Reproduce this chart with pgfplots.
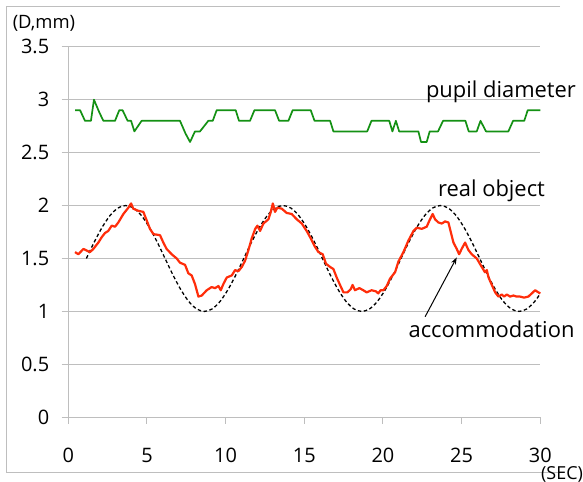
\documentclass[border=0pt]{standalone}
\usepackage{fontspec}
\setmainfont{Open Sans}
\usepackage{pgfplots}
\pgfplotsset{compat=1.18}
\usetikzlibrary{arrows.meta}

\definecolor{gridgray}{RGB}{190,190,190}
\definecolor{pupilgreen}{RGB}{20,145,20}
\definecolor{accred}{RGB}{255,45,10}

\begin{document}
\begin{tikzpicture}
  \useasboundingbox (-68.3bp,-64.7bp) rectangle (514.7bp,417.3bp);
  % chart frame (no right edge in the original)
  \draw[gridgray, line width=1bp] (491.7bp,410.3bp) -- (-61.3bp,410.3bp) -- (-61.3bp,-54.7bp) -- (491.7bp,-54.7bp);
  \begin{axis}[
    at={(0,0)}, anchor=south west,
    scale only axis,
    width=472bp, height=370.6bp,
    xmin=0, xmax=30, ymin=0, ymax=3.5,
    xtick={0,5,...,30},
    ytick={0,0.5,...,3.5},
    axis x line=bottom, axis y line=left,
    axis line style={gridgray, line width=1bp, -},
    tick style={gridgray, line width=1bp},
    tick align=outside,
    major tick length=6.6bp,
    ymajorgrids,
    grid style={gridgray, line width=1bp},
    /pgf/number format/assume math mode=true,
    ticklabel style={font=\fontsize{20}{24}\selectfont, text=black},
    xticklabel shift=21bp,
    yticklabel shift=9bp,
    clip=false,
  ]
    % pupil diameter
    \addplot[pupilgreen, line width=1.7bp, line join=round] coordinates {
      (0.43,2.9) (0.75,2.9) (1.06,2.8) (1.44,2.8) (1.63,3.0) (1.97,2.88) (2.23,2.8)
      (2.97,2.8) (3.24,2.9) (3.45,2.9) (3.77,2.8) (3.99,2.8) (4.2,2.7) (4.66,2.8)
      (7.1,2.8) (7.45,2.68) (7.74,2.6) (8.05,2.7) (8.37,2.7) (8.9,2.8) (9.18,2.8)
      (9.43,2.9) (10.64,2.9) (10.85,2.8) (11.55,2.8) (11.83,2.9) (13.14,2.9)
      (13.4,2.8) (13.99,2.8) (14.26,2.9) (15.41,2.9) (15.65,2.8) (16.64,2.8)
      (16.85,2.7) (19.0,2.7) (19.27,2.8) (20.4,2.8) (20.6,2.7) (20.82,2.8)
      (21.03,2.7) (22.25,2.7) (22.42,2.6) (22.78,2.6) (22.97,2.7) (23.5,2.7)
      (23.82,2.8) (25.24,2.8) (25.45,2.7) (25.96,2.7) (26.2,2.8) (26.55,2.7)
      (27.97,2.7) (28.27,2.8) (28.98,2.8) (29.2,2.9) (30,2.9)
    };
    % real object
    \addplot[black, line width=1.3bp, dash pattern=on 3.5bp off 2.5bp, smooth] coordinates {
      (1.15,1.5) (1.65,1.655) (2.15,1.794) (2.65,1.905) (3.15,1.976) (3.65,2.0)
      (4.15,1.976) (4.65,1.905) (5.15,1.794) (5.65,1.655) (6.15,1.5) (6.65,1.345)
      (7.15,1.206) (7.65,1.095) (8.15,1.024) (8.65,1.0) (9.15,1.024) (9.65,1.095)
      (10.15,1.206) (10.65,1.345) (11.15,1.5) (11.65,1.655) (12.15,1.794)
      (12.65,1.905) (13.15,1.976) (13.65,2.0) (14.15,1.976) (14.65,1.905)
      (15.15,1.794) (15.65,1.655) (16.15,1.5) (16.65,1.345) (17.15,1.206)
      (17.65,1.095) (18.15,1.024) (18.65,1.0) (19.15,1.024) (19.65,1.095)
      (20.15,1.206) (20.65,1.345) (21.15,1.5) (21.65,1.655) (22.15,1.794)
      (22.65,1.905) (23.15,1.976) (23.65,2.0) (24.15,1.976) (24.65,1.905)
      (25.15,1.794) (25.65,1.655) (26.15,1.5) (26.65,1.345) (27.15,1.206)
      (27.65,1.095) (28.15,1.024) (28.65,1.0) (29.15,1.024) (29.65,1.095) (30,1.169)
    };
    % accommodation
    \addplot[accred, line width=2.2bp, line join=round] coordinates {
      (0.43,1.56) (0.64,1.54) (0.96,1.59) (1.17,1.575) (1.38,1.56) (1.59,1.59)
      (1.91,1.65) (2.12,1.70) (2.33,1.74) (2.54,1.76) (2.76,1.81) (2.97,1.80)
      (3.18,1.84) (3.5,1.92) (3.82,1.98) (3.99,2.02) (4.13,1.97) (4.45,1.95)
      (4.77,1.94) (4.98,1.86) (5.19,1.78) (5.41,1.73) (5.83,1.72) (6.04,1.65)
      (6.25,1.59) (6.57,1.54) (6.89,1.50) (7.1,1.46) (7.42,1.44) (7.63,1.36)
      (7.84,1.34) (8.05,1.26) (8.27,1.14) (8.48,1.15) (8.8,1.20) (9.11,1.23)
      (9.33,1.22) (9.54,1.24) (9.69,1.20) (9.86,1.26) (10.07,1.32) (10.39,1.34)
      (10.6,1.39) (10.81,1.38) (11.03,1.42) (11.24,1.48) (11.45,1.58) (11.66,1.69)
      (11.88,1.78) (12.02,1.81) (12.19,1.76) (12.4,1.83) (12.72,1.87) (12.87,1.94)
      (13.0,2.02) (13.14,1.94) (13.29,1.98) (13.57,1.97) (13.88,1.93) (14.2,1.92)
      (14.52,1.87) (14.84,1.83) (15.15,1.76) (15.41,1.69) (15.68,1.61) (15.9,1.56)
      (16.17,1.54) (16.38,1.45) (16.64,1.42) (16.85,1.40) (17.06,1.32) (17.27,1.25)
      (17.49,1.18) (17.74,1.18) (17.95,1.21) (18.07,1.25) (18.22,1.20) (18.5,1.22)
      (18.75,1.20) (18.96,1.18) (19.28,1.20) (19.55,1.19) (19.7,1.17) (19.85,1.20)
      (20.03,1.20) (20.24,1.24) (20.45,1.31) (20.77,1.37) (20.98,1.47) (21.3,1.56)
      (21.62,1.67) (21.94,1.76) (22.15,1.79) (22.47,1.78) (22.78,1.80) (22.99,1.87)
      (23.16,1.92) (23.31,1.87) (23.52,1.84) (23.74,1.83) (23.95,1.85) (24.16,1.84)
      (24.31,1.75) (24.48,1.65) (24.69,1.59) (24.84,1.54) (25.0,1.59) (25.22,1.65)
      (25.43,1.58) (25.64,1.54) (25.96,1.50) (26.28,1.42) (26.48,1.37) (26.6,1.39)
      (26.71,1.32) (26.92,1.25) (27.13,1.18) (27.34,1.14) (27.55,1.16) (27.7,1.14)
      (27.87,1.16) (28.08,1.14) (28.29,1.15) (28.5,1.14) (28.72,1.14) (28.97,1.13)
      (29.24,1.14) (29.46,1.17) (29.67,1.20) (29.88,1.18) (30,1.17)
    };
    \node[font=\fontsize{22}{26}\selectfont] at (axis cs:27.5,3.07) {pupil diameter};
    \node[font=\fontsize{22}{26}\selectfont] at (axis cs:26.9,2.14) {real object};
    \node[font=\fontsize{22}{26}\selectfont] at (axis cs:26.9,0.83) {accommodation};
    \draw[-{Stealth[length=7bp,width=5bp]}, line width=1bp] (axis cs:22.68,0.95) -- (axis cs:24.69,1.51);
  \end{axis}
  \node[font=\fontsize{18.5}{22}\selectfont] at (-24.3bp,394.3bp) {(D,mm)};
  \node[font=\fontsize{18}{22}\selectfont, anchor=north, inner sep=0pt] at (493.7bp,-48.7bp) {(SEC)};
\end{tikzpicture}
\end{document}
